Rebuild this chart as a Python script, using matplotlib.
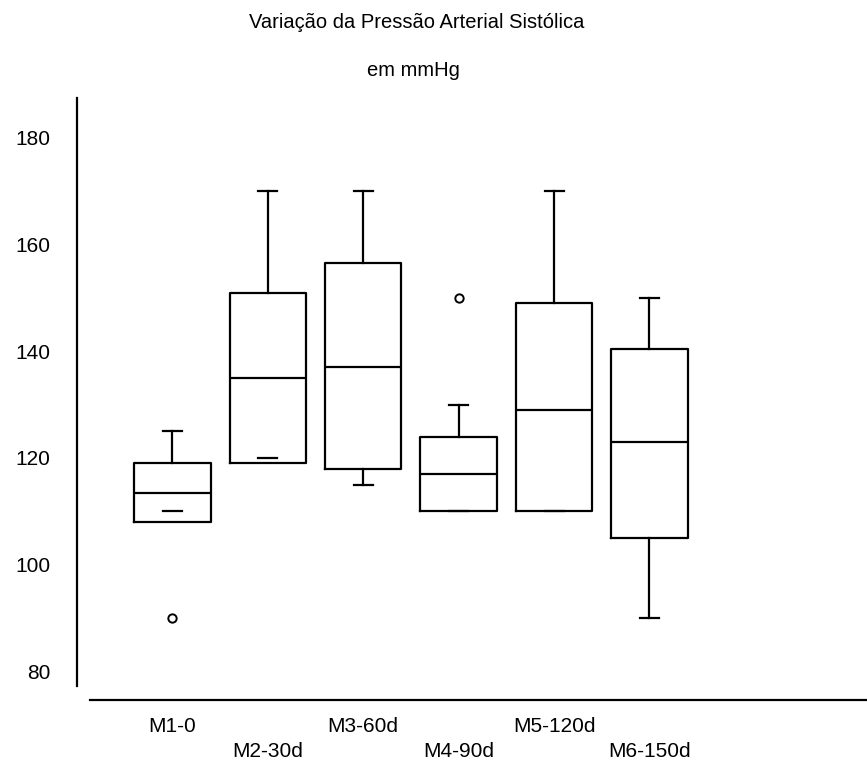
import matplotlib.pyplot as plt

categories = ['M1-0', 'M2-30d', 'M3-60d', 'M4-90d', 'M5-120d', 'M6-150d']
q1 = [108, 119, 118, 110, 110, 105]
medians = [113.5, 135, 137, 117, 129, 123]
q3 = [119, 151, 156.5, 124, 149, 140.5]
whis_low = [110, 120, 115, 110, 110, 90]
whis_high = [125, 170, 170, 130, 170, 150]
outliers = [[90], [], [], [150], [], []]
y_ticks = [80, 100, 120, 140, 160, 180]

plt.rcParams['font.family'] = ['Liberation Sans', 'DejaVu Sans']

fig = plt.figure(figsize=(8.67, 7.67), dpi=100)
ax = fig.add_axes([77 / 867, 67 / 767, 790 / 867, 602 / 767])

stats = []
for i, name in enumerate(categories):
    stats.append({'label': name, 'q1': q1[i], 'med': medians[i], 'q3': q3[i],
                  'whislo': whis_low[i], 'whishi': whis_high[i], 'fliers': outliers[i]})

line = dict(color='black', linewidth=1.6)
parts = ax.bxp(stats, positions=range(1, len(categories) + 1), widths=0.8, capwidths=0.2,
               boxprops=line, whiskerprops=line, capprops=line, medianprops=line,
               flierprops=dict(marker='o', markersize=6, markerfacecolor='white',
                               markeredgecolor='black', markeredgewidth=1.4))

# lower whisker ends inside the box: only the cap is shown
for i in range(len(categories)):
    if whis_low[i] > q1[i]:
        parts['whiskers'][2 * i].set_visible(False)

ax.set_xlim(0, 8.28)
ax.set_ylim(74.6, 187.5)
ax.set_yticks(y_ticks)
ax.tick_params(axis='y', length=0, pad=19, labelsize=15)
ax.tick_params(axis='x', length=0, labelsize=15)
for i, tick in enumerate(ax.xaxis.get_major_ticks()):
    tick.set_pad(12 if i % 2 == 0 else 30)

for side in ['top', 'right']:
    ax.spines[side].set_visible(False)
ax.spines['left'].set_bounds(77.2, 187.5)
ax.spines['bottom'].set_bounds(0.136, 8.28)
ax.spines['left'].set_linewidth(1.6)
ax.spines['bottom'].set_linewidth(1.6)

fig.text(0.481, 1 - 22 / 767, 'Variação da Pressão Arterial Sistólica', ha='center', va='center', fontsize=14.5)
fig.text(0.477, 1 - 70 / 767, 'em mmHg', ha='center', va='center', fontsize=14.5)

fig.savefig('out.png', dpi=100)
